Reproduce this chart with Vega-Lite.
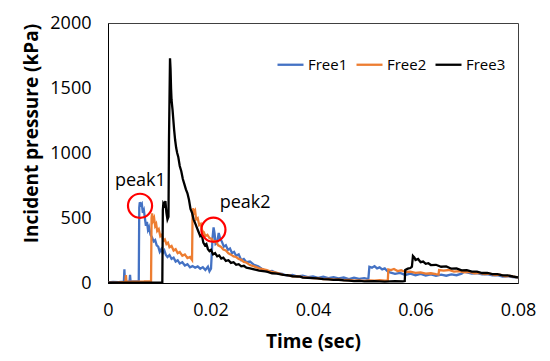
{
  "$schema": "https://vega.github.io/schema/vega-lite/v6.json",
  "width": 410,
  "height": 260,
  "autosize": "none",
  "padding": {"left": 108, "top": 23, "right": 32, "bottom": 78},
  "background": "white",
  "config": {
    "view": {"stroke": "#404040", "strokeWidth": 1},
    "font": "Open Sans",
    "axis": {"grid": false, "ticks": false, "tickSize": 0, "domainColor": "#000000", "domainWidth": 1, "labelColor": "#000000", "titleColor": "#000000", "labelFont": "Open Sans", "titleFont": "Open Sans", "labelFontSize": 18, "titleFontSize": 19, "titleFontWeight": "bold", "labelOverlap": false, "labelFlush": false, "labelBound": false}
  },
  "datasets": {
    "lines": [
      {"s":"Free1","t":0,"p":5},{"s":"Free1","t":0.001,"p":8},{"s":"Free1","t":0.002,"p":6},{"s":"Free1","t":0.0031,"p":10},{"s":"Free1","t":0.0032,"p":105},{"s":"Free1","t":0.0033,"p":12},{"s":"Free1","t":0.0042,"p":10},{"s":"Free1","t":0.0043,"p":62},{"s":"Free1","t":0.0044,"p":12},{"s":"Free1","t":0.006,"p":15},{"s":"Free1","t":0.0061,"p":580},{"s":"Free1","t":0.0062,"p":621},{"s":"Free1","t":0.0064,"p":600},{"s":"Free1","t":0.0066,"p":610},{"s":"Free1","t":0.0068,"p":540},{"s":"Free1","t":0.007,"p":560},{"s":"Free1","t":0.0072,"p":500},{"s":"Free1","t":0.0074,"p":440},{"s":"Free1","t":0.0076,"p":470},{"s":"Free1","t":0.0078,"p":410},{"s":"Free1","t":0.008,"p":430},{"s":"Free1","t":0.0083,"p":370},{"s":"Free1","t":0.0086,"p":350},{"s":"Free1","t":0.0089,"p":320},{"s":"Free1","t":0.0092,"p":330},{"s":"Free1","t":0.0095,"p":290},{"s":"Free1","t":0.0098,"p":280},{"s":"Free1","t":0.0101,"p":240},{"s":"Free1","t":0.0104,"p":260},{"s":"Free1","t":0.0107,"p":230},{"s":"Free1","t":0.011,"p":250},{"s":"Free1","t":0.0113,"p":215},{"s":"Free1","t":0.0116,"p":200},{"s":"Free1","t":0.012,"p":215},{"s":"Free1","t":0.0124,"p":185},{"s":"Free1","t":0.0128,"p":195},{"s":"Free1","t":0.0132,"p":165},{"s":"Free1","t":0.0136,"p":175},{"s":"Free1","t":0.014,"p":150},{"s":"Free1","t":0.0145,"p":160},{"s":"Free1","t":0.015,"p":135},{"s":"Free1","t":0.0155,"p":145},{"s":"Free1","t":0.016,"p":120},{"s":"Free1","t":0.0165,"p":130},{"s":"Free1","t":0.017,"p":118},{"s":"Free1","t":0.0175,"p":128},{"s":"Free1","t":0.018,"p":110},{"s":"Free1","t":0.0185,"p":122},{"s":"Free1","t":0.019,"p":100},{"s":"Free1","t":0.0195,"p":125},{"s":"Free1","t":0.0198,"p":90},{"s":"Free1","t":0.0201,"p":110},{"s":"Free1","t":0.0204,"p":350},{"s":"Free1","t":0.0206,"p":428},{"s":"Free1","t":0.0208,"p":380},{"s":"Free1","t":0.021,"p":300},{"s":"Free1","t":0.0213,"p":310},{"s":"Free1","t":0.0216,"p":385},{"s":"Free1","t":0.0219,"p":340},{"s":"Free1","t":0.0222,"p":320},{"s":"Free1","t":0.0226,"p":280},{"s":"Free1","t":0.023,"p":290},{"s":"Free1","t":0.0234,"p":255},{"s":"Free1","t":0.0238,"p":265},{"s":"Free1","t":0.0242,"p":230},{"s":"Free1","t":0.0246,"p":240},{"s":"Free1","t":0.025,"p":210},{"s":"Free1","t":0.0255,"p":220},{"s":"Free1","t":0.026,"p":175},{"s":"Free1","t":0.0265,"p":185},{"s":"Free1","t":0.027,"p":160},{"s":"Free1","t":0.0277,"p":165},{"s":"Free1","t":0.0285,"p":140},{"s":"Free1","t":0.0293,"p":128},{"s":"Free1","t":0.03,"p":110},{"s":"Free1","t":0.031,"p":88},{"s":"Free1","t":0.032,"p":92},{"s":"Free1","t":0.033,"p":75},{"s":"Free1","t":0.034,"p":70},{"s":"Free1","t":0.035,"p":55},{"s":"Free1","t":0.036,"p":62},{"s":"Free1","t":0.037,"p":50},{"s":"Free1","t":0.038,"p":56},{"s":"Free1","t":0.039,"p":45},{"s":"Free1","t":0.04,"p":50},{"s":"Free1","t":0.041,"p":40},{"s":"Free1","t":0.042,"p":48},{"s":"Free1","t":0.043,"p":38},{"s":"Free1","t":0.044,"p":44},{"s":"Free1","t":0.045,"p":35},{"s":"Free1","t":0.046,"p":42},{"s":"Free1","t":0.047,"p":30},{"s":"Free1","t":0.048,"p":40},{"s":"Free1","t":0.049,"p":32},{"s":"Free1","t":0.05,"p":38},{"s":"Free1","t":0.0508,"p":30},{"s":"Free1","t":0.051,"p":125},{"s":"Free1","t":0.0515,"p":118},{"s":"Free1","t":0.052,"p":130},{"s":"Free1","t":0.0525,"p":112},{"s":"Free1","t":0.053,"p":120},{"s":"Free1","t":0.0535,"p":105},{"s":"Free1","t":0.054,"p":112},{"s":"Free1","t":0.0545,"p":92},{"s":"Free1","t":0.055,"p":82},{"s":"Free1","t":0.056,"p":70},{"s":"Free1","t":0.057,"p":78},{"s":"Free1","t":0.058,"p":62},{"s":"Free1","t":0.059,"p":72},{"s":"Free1","t":0.06,"p":60},{"s":"Free1","t":0.061,"p":70},{"s":"Free1","t":0.062,"p":58},{"s":"Free1","t":0.063,"p":66},{"s":"Free1","t":0.064,"p":55},{"s":"Free1","t":0.065,"p":64},{"s":"Free1","t":0.066,"p":56},{"s":"Free1","t":0.067,"p":66},{"s":"Free1","t":0.068,"p":60},{"s":"Free1","t":0.069,"p":72},{"s":"Free1","t":0.0695,"p":88},{"s":"Free1","t":0.07,"p":82},{"s":"Free1","t":0.071,"p":72},{"s":"Free1","t":0.072,"p":76},{"s":"Free1","t":0.073,"p":66},{"s":"Free1","t":0.074,"p":68},{"s":"Free1","t":0.075,"p":58},{"s":"Free1","t":0.076,"p":60},{"s":"Free1","t":0.077,"p":50},{"s":"Free1","t":0.078,"p":52},{"s":"Free1","t":0.079,"p":45},{"s":"Free1","t":0.08,"p":42},
      {"s":"Free2","t":0,"p":3},{"s":"Free2","t":0.002,"p":5},{"s":"Free2","t":0.0034,"p":8},{"s":"Free2","t":0.0035,"p":60},{"s":"Free2","t":0.0036,"p":8},{"s":"Free2","t":0.005,"p":10},{"s":"Free2","t":0.007,"p":12},{"s":"Free2","t":0.0084,"p":15},{"s":"Free2","t":0.0085,"p":500},{"s":"Free2","t":0.0086,"p":536},{"s":"Free2","t":0.0088,"p":480},{"s":"Free2","t":0.009,"p":500},{"s":"Free2","t":0.0092,"p":440},{"s":"Free2","t":0.0094,"p":455},{"s":"Free2","t":0.0096,"p":400},{"s":"Free2","t":0.0099,"p":415},{"s":"Free2","t":0.0102,"p":360},{"s":"Free2","t":0.0105,"p":372},{"s":"Free2","t":0.0108,"p":325},{"s":"Free2","t":0.0111,"p":335},{"s":"Free2","t":0.0114,"p":300},{"s":"Free2","t":0.0117,"p":310},{"s":"Free2","t":0.012,"p":275},{"s":"Free2","t":0.0124,"p":285},{"s":"Free2","t":0.0128,"p":250},{"s":"Free2","t":0.0132,"p":260},{"s":"Free2","t":0.0136,"p":230},{"s":"Free2","t":0.014,"p":238},{"s":"Free2","t":0.0145,"p":210},{"s":"Free2","t":0.015,"p":220},{"s":"Free2","t":0.0155,"p":192},{"s":"Free2","t":0.016,"p":200},{"s":"Free2","t":0.0164,"p":178},{"s":"Free2","t":0.0165,"p":520},{"s":"Free2","t":0.0166,"p":575},{"s":"Free2","t":0.0168,"p":540},{"s":"Free2","t":0.017,"p":555},{"s":"Free2","t":0.0172,"p":490},{"s":"Free2","t":0.0175,"p":500},{"s":"Free2","t":0.0178,"p":445},{"s":"Free2","t":0.0181,"p":455},{"s":"Free2","t":0.0184,"p":400},{"s":"Free2","t":0.0187,"p":390},{"s":"Free2","t":0.019,"p":360},{"s":"Free2","t":0.0194,"p":370},{"s":"Free2","t":0.0198,"p":345},{"s":"Free2","t":0.0202,"p":340},{"s":"Free2","t":0.0206,"p":318},{"s":"Free2","t":0.021,"p":322},{"s":"Free2","t":0.0215,"p":290},{"s":"Free2","t":0.022,"p":280},{"s":"Free2","t":0.0225,"p":258},{"s":"Free2","t":0.023,"p":250},{"s":"Free2","t":0.0235,"p":228},{"s":"Free2","t":0.024,"p":218},{"s":"Free2","t":0.0245,"p":205},{"s":"Free2","t":0.025,"p":200},{"s":"Free2","t":0.0255,"p":185},{"s":"Free2","t":0.026,"p":178},{"s":"Free2","t":0.0265,"p":162},{"s":"Free2","t":0.027,"p":158},{"s":"Free2","t":0.0277,"p":138},{"s":"Free2","t":0.0285,"p":128},{"s":"Free2","t":0.0295,"p":112},{"s":"Free2","t":0.031,"p":100},{"s":"Free2","t":0.032,"p":85},{"s":"Free2","t":0.033,"p":78},{"s":"Free2","t":0.0342,"p":62},{"s":"Free2","t":0.035,"p":60},{"s":"Free2","t":0.036,"p":52},{"s":"Free2","t":0.0375,"p":49},{"s":"Free2","t":0.038,"p":45},{"s":"Free2","t":0.039,"p":42},{"s":"Free2","t":0.04,"p":38},{"s":"Free2","t":0.041,"p":36},{"s":"Free2","t":0.042,"p":30},{"s":"Free2","t":0.043,"p":32},{"s":"Free2","t":0.044,"p":26},{"s":"Free2","t":0.045,"p":28},{"s":"Free2","t":0.046,"p":22},{"s":"Free2","t":0.047,"p":24},{"s":"Free2","t":0.048,"p":18},{"s":"Free2","t":0.049,"p":20},{"s":"Free2","t":0.05,"p":16},{"s":"Free2","t":0.051,"p":20},{"s":"Free2","t":0.052,"p":18},{"s":"Free2","t":0.053,"p":22},{"s":"Free2","t":0.054,"p":18},{"s":"Free2","t":0.0546,"p":20},{"s":"Free2","t":0.0547,"p":105},{"s":"Free2","t":0.0552,"p":100},{"s":"Free2","t":0.0558,"p":108},{"s":"Free2","t":0.0565,"p":92},{"s":"Free2","t":0.0572,"p":98},{"s":"Free2","t":0.058,"p":85},{"s":"Free2","t":0.059,"p":88},{"s":"Free2","t":0.06,"p":78},{"s":"Free2","t":0.061,"p":82},{"s":"Free2","t":0.062,"p":72},{"s":"Free2","t":0.063,"p":75},{"s":"Free2","t":0.064,"p":68},{"s":"Free2","t":0.0645,"p":66},{"s":"Free2","t":0.0646,"p":100},{"s":"Free2","t":0.0655,"p":95},{"s":"Free2","t":0.0665,"p":100},{"s":"Free2","t":0.0675,"p":88},{"s":"Free2","t":0.0685,"p":92},{"s":"Free2","t":0.0695,"p":82},{"s":"Free2","t":0.0705,"p":86},{"s":"Free2","t":0.0715,"p":75},{"s":"Free2","t":0.0725,"p":78},{"s":"Free2","t":0.0735,"p":68},{"s":"Free2","t":0.0745,"p":72},{"s":"Free2","t":0.0755,"p":60},{"s":"Free2","t":0.0765,"p":64},{"s":"Free2","t":0.0775,"p":52},{"s":"Free2","t":0.0785,"p":55},{"s":"Free2","t":0.0795,"p":45},{"s":"Free2","t":0.08,"p":44},
      {"s":"Free3","t":0,"p":2},{"s":"Free3","t":0.005,"p":3},{"s":"Free3","t":0.0106,"p":3},{"s":"Free3","t":0.0107,"p":560},{"s":"Free3","t":0.0108,"p":613},{"s":"Free3","t":0.011,"p":600},{"s":"Free3","t":0.0112,"p":630},{"s":"Free3","t":0.0114,"p":540},{"s":"Free3","t":0.0116,"p":490},{"s":"Free3","t":0.0118,"p":510},{"s":"Free3","t":0.0119,"p":1100},{"s":"Free3","t":0.0121,"p":1728},{"s":"Free3","t":0.0122,"p":1650},{"s":"Free3","t":0.0123,"p":1500},{"s":"Free3","t":0.0124,"p":1408},{"s":"Free3","t":0.0126,"p":1330},{"s":"Free3","t":0.0127,"p":1279},{"s":"Free3","t":0.0129,"p":1180},{"s":"Free3","t":0.0131,"p":1100},{"s":"Free3","t":0.0133,"p":1040},{"s":"Free3","t":0.0135,"p":1000},{"s":"Free3","t":0.0137,"p":972},{"s":"Free3","t":0.014,"p":900},{"s":"Free3","t":0.0143,"p":860},{"s":"Free3","t":0.0146,"p":800},{"s":"Free3","t":0.0149,"p":760},{"s":"Free3","t":0.0152,"p":720},{"s":"Free3","t":0.0155,"p":690},{"s":"Free3","t":0.0158,"p":640},{"s":"Free3","t":0.0161,"p":570},{"s":"Free3","t":0.0164,"p":540},{"s":"Free3","t":0.0167,"p":490},{"s":"Free3","t":0.017,"p":460},{"s":"Free3","t":0.0173,"p":430},{"s":"Free3","t":0.0176,"p":400},{"s":"Free3","t":0.018,"p":360},{"s":"Free3","t":0.0183,"p":370},{"s":"Free3","t":0.0186,"p":310},{"s":"Free3","t":0.0189,"p":290},{"s":"Free3","t":0.0192,"p":300},{"s":"Free3","t":0.0195,"p":260},{"s":"Free3","t":0.0198,"p":245},{"s":"Free3","t":0.0201,"p":255},{"s":"Free3","t":0.0205,"p":220},{"s":"Free3","t":0.0209,"p":230},{"s":"Free3","t":0.0213,"p":205},{"s":"Free3","t":0.0217,"p":212},{"s":"Free3","t":0.0221,"p":188},{"s":"Free3","t":0.0225,"p":195},{"s":"Free3","t":0.023,"p":170},{"s":"Free3","t":0.0235,"p":175},{"s":"Free3","t":0.024,"p":155},{"s":"Free3","t":0.0245,"p":160},{"s":"Free3","t":0.025,"p":140},{"s":"Free3","t":0.0255,"p":145},{"s":"Free3","t":0.026,"p":128},{"s":"Free3","t":0.0265,"p":132},{"s":"Free3","t":0.027,"p":118},{"s":"Free3","t":0.0277,"p":113},{"s":"Free3","t":0.0285,"p":105},{"s":"Free3","t":0.0295,"p":95},{"s":"Free3","t":0.031,"p":87},{"s":"Free3","t":0.032,"p":75},{"s":"Free3","t":0.033,"p":72},{"s":"Free3","t":0.0342,"p":62},{"s":"Free3","t":0.035,"p":60},{"s":"Free3","t":0.036,"p":52},{"s":"Free3","t":0.0375,"p":49},{"s":"Free3","t":0.038,"p":42},{"s":"Free3","t":0.039,"p":40},{"s":"Free3","t":0.0408,"p":36},{"s":"Free3","t":0.042,"p":30},{"s":"Free3","t":0.043,"p":28},{"s":"Free3","t":0.044,"p":24},{"s":"Free3","t":0.045,"p":25},{"s":"Free3","t":0.046,"p":20},{"s":"Free3","t":0.047,"p":18},{"s":"Free3","t":0.048,"p":15},{"s":"Free3","t":0.049,"p":16},{"s":"Free3","t":0.05,"p":13},{"s":"Free3","t":0.052,"p":14},{"s":"Free3","t":0.054,"p":11},{"s":"Free3","t":0.056,"p":14},{"s":"Free3","t":0.0575,"p":12},{"s":"Free3","t":0.0579,"p":15},{"s":"Free3","t":0.058,"p":100},{"s":"Free3","t":0.0585,"p":110},{"s":"Free3","t":0.059,"p":115},{"s":"Free3","t":0.0593,"p":125},{"s":"Free3","t":0.0595,"p":208},{"s":"Free3","t":0.0598,"p":195},{"s":"Free3","t":0.06,"p":177},{"s":"Free3","t":0.0605,"p":185},{"s":"Free3","t":0.061,"p":160},{"s":"Free3","t":0.0615,"p":165},{"s":"Free3","t":0.062,"p":148},{"s":"Free3","t":0.0625,"p":152},{"s":"Free3","t":0.063,"p":138},{"s":"Free3","t":0.064,"p":140},{"s":"Free3","t":0.065,"p":125},{"s":"Free3","t":0.066,"p":128},{"s":"Free3","t":0.067,"p":110},{"s":"Free3","t":0.068,"p":112},{"s":"Free3","t":0.069,"p":97},{"s":"Free3","t":0.07,"p":98},{"s":"Free3","t":0.071,"p":87},{"s":"Free3","t":0.072,"p":88},{"s":"Free3","t":0.073,"p":77},{"s":"Free3","t":0.074,"p":78},{"s":"Free3","t":0.075,"p":68},{"s":"Free3","t":0.076,"p":68},{"s":"Free3","t":0.077,"p":58},{"s":"Free3","t":0.078,"p":58},{"s":"Free3","t":0.079,"p":50},{"s":"Free3","t":0.08,"p":44}
    ],
    "circles": [
      {"t": 0.00625, "p": 594},
      {"t": 0.02057, "p": 410}
    ],
    "labels": [
      {"t": 0.00631, "p": 746, "label": "peak1"},
      {"t": 0.02676, "p": 575, "label": "peak2"}
    ]
  },
  "layer": [
    {
      "data": {"name": "lines"},
      "mark": {"type": "line", "interpolate": "linear"},
      "encoding": {
        "x": {"field": "t", "type": "quantitative", "scale": {"domain": [0, 0.08], "nice": false, "zero": false}, "axis": {"values": [0, 0.02, 0.04, 0.06, 0.08], "format": "~g", "title": "Time (sec)", "labelPadding": 18, "titleY": 64, "titleBaseline": "alphabetic"}},
        "y": {"field": "p", "type": "quantitative", "scale": {"domain": [0, 2000], "nice": false}, "axis": {"values": [0, 500, 1000, 1500, 2000], "format": "d", "title": "Incident pressure (kPa)", "labelPadding": 17, "titleX": -71, "titleY": 110, "titleAngle": -90, "titleBaseline": "alphabetic", "titleAlign": "center"}},
        "color": {"field": "s", "type": "nominal", "scale": {"domain": ["Free1", "Free2", "Free3"], "range": ["#4472C4", "#ED7D31", "#000000"]}, "legend": {"title": null, "orient": "none", "direction": "horizontal", "legendX": 168, "legendY": 27, "padding": 0, "symbolType": "stroke", "symbolSize": 676, "symbolStrokeWidth": 2.5, "labelFont": "Open Sans", "labelFontSize": 15, "labelColor": "#000000", "labelOffset": 3, "columnPadding": 3}},
        "strokeWidth": {"field": "s", "type": "nominal", "scale": {"domain": ["Free1", "Free2", "Free3"], "range": [2.3, 2.3, 3]}, "legend": null}
      }
    },
    {
      "data": {"name": "circles"},
      "mark": {"type": "point", "shape": "circle", "filled": false, "stroke": "#FF0000", "strokeWidth": 2.2, "size": 580, "opacity": 1},
      "encoding": {
        "x": {"field": "t", "type": "quantitative"},
        "y": {"field": "p", "type": "quantitative"}
      }
    },
    {
      "data": {"name": "labels"},
      "mark": {"type": "text", "font": "Open Sans", "fontSize": 18, "color": "#000000", "align": "center", "baseline": "alphabetic"},
      "encoding": {
        "x": {"field": "t", "type": "quantitative"},
        "y": {"field": "p", "type": "quantitative"},
        "text": {"field": "label", "type": "nominal"}
      }
    }
  ]
}
